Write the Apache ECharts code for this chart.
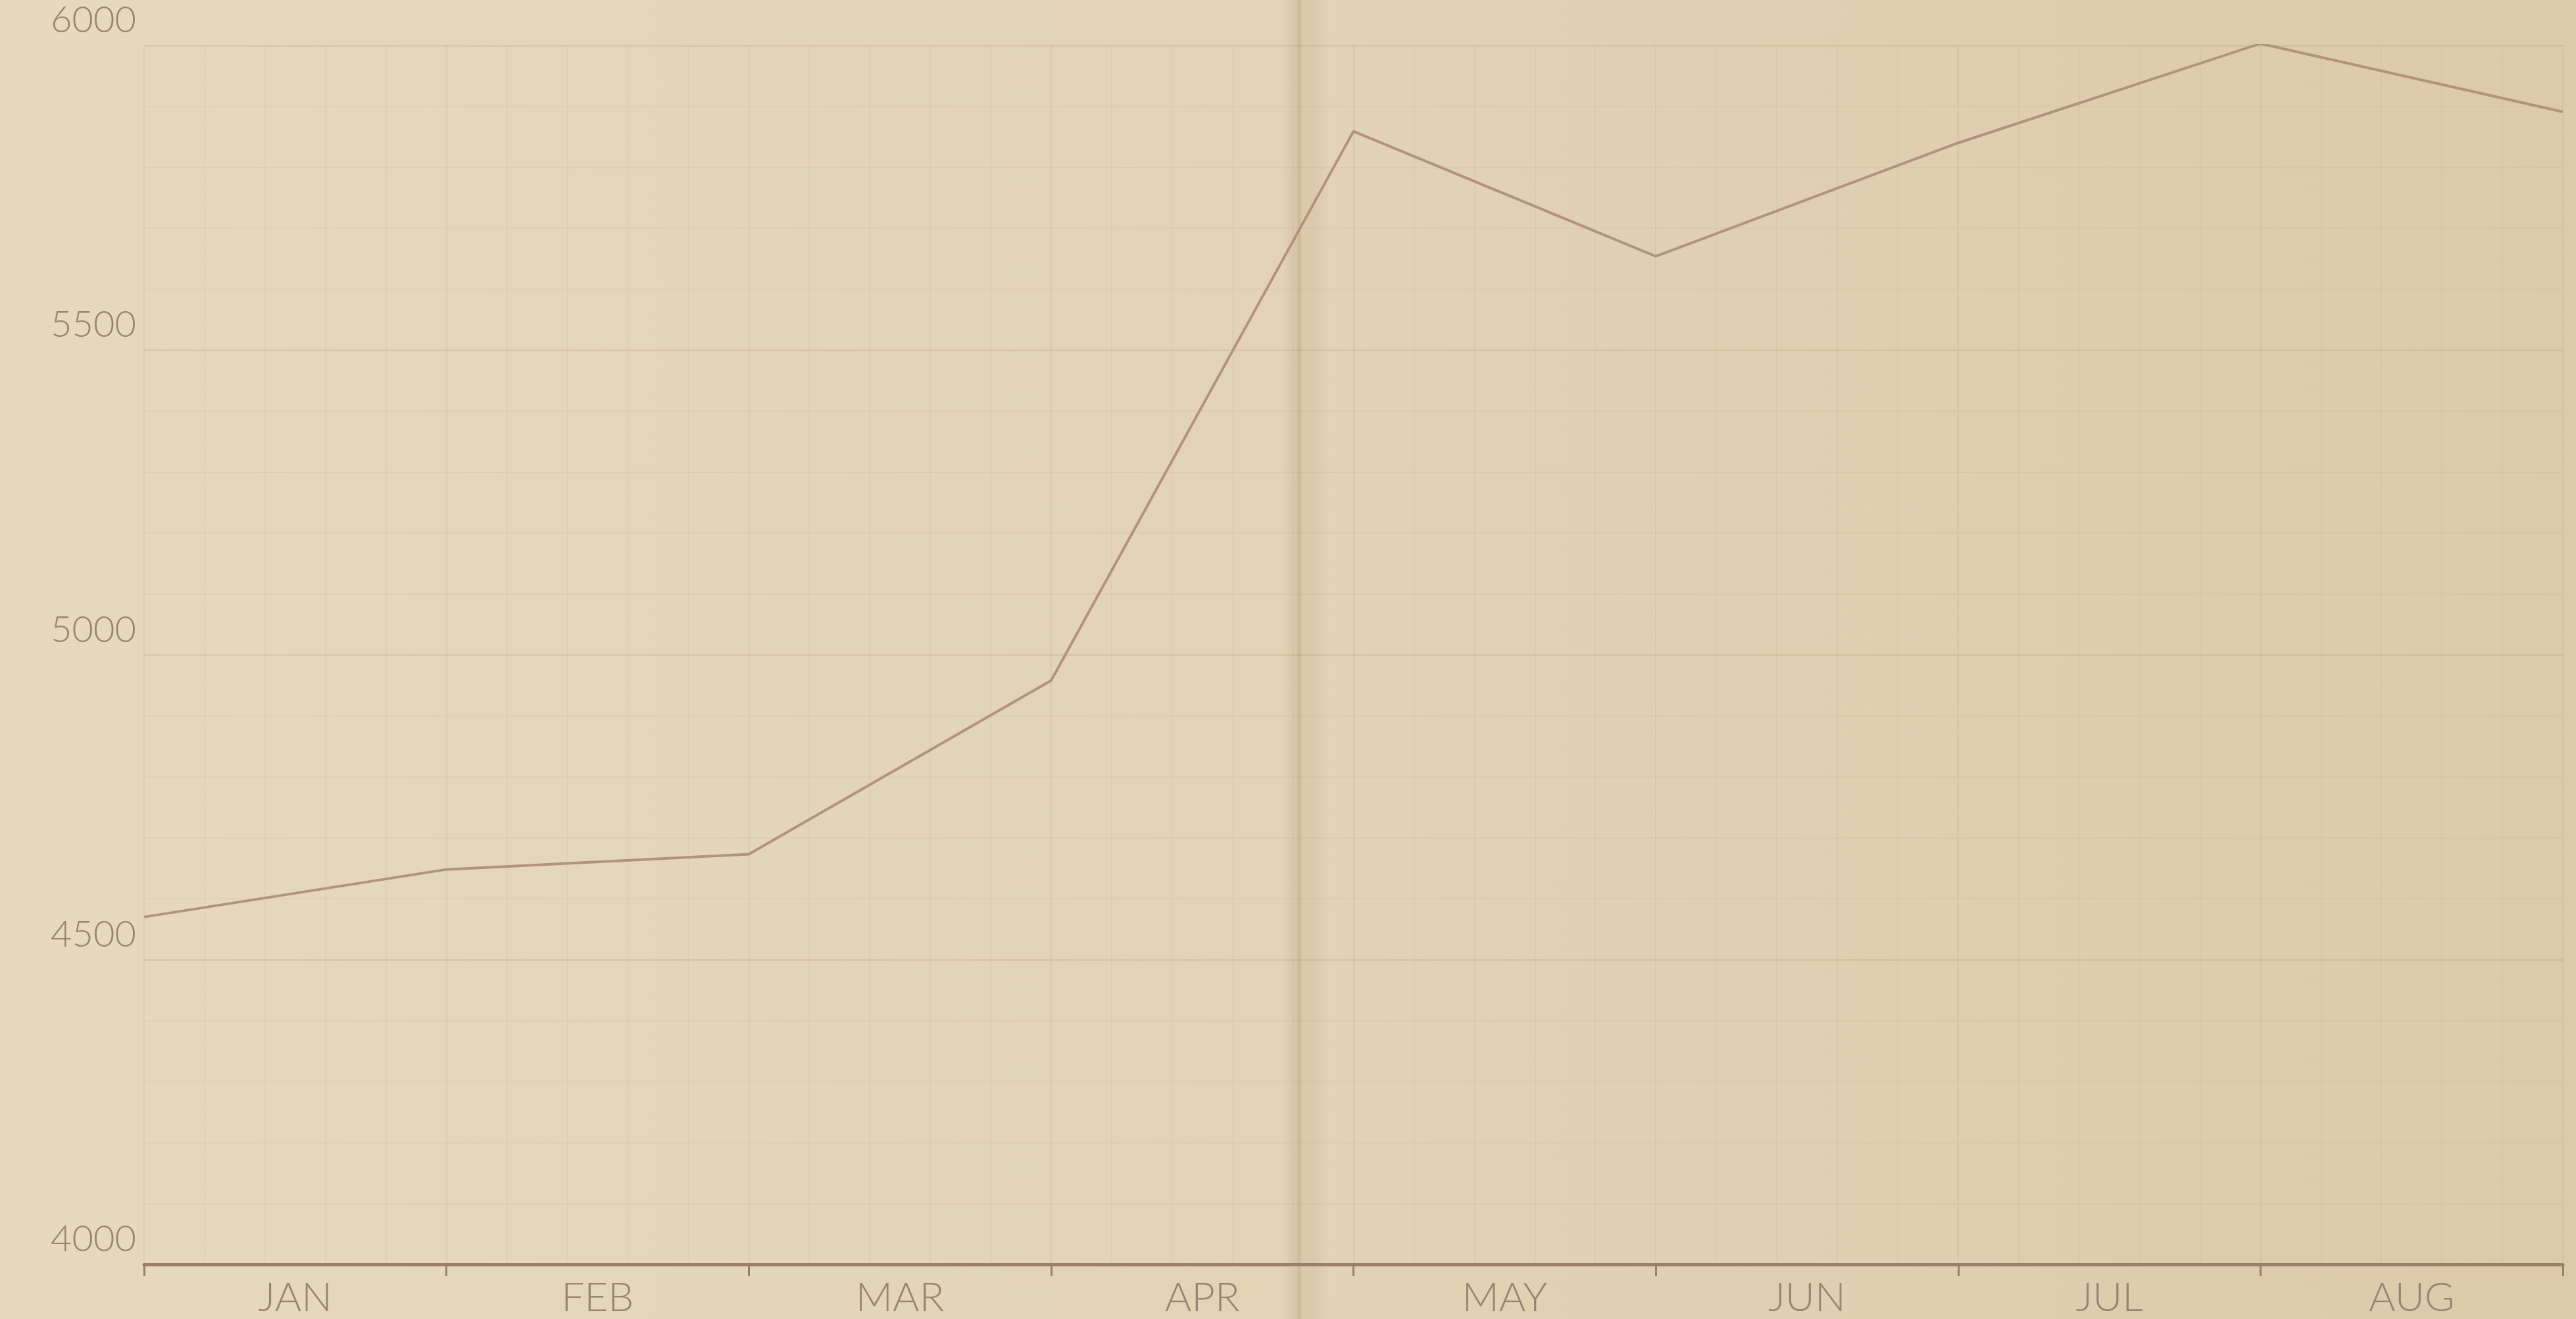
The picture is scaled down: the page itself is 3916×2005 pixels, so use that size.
<!DOCTYPE html>
<html>
<head>
<meta charset="utf-8">
<script src="https://cdn.jsdelivr.net/npm/echarts@6/dist/echarts.min.js"></script>
<style>
  html, body { margin: 0; padding: 0; }
  #main { width: 3916px; height: 2005px; }
</style>
</head>
<body>
<div id="main"></div>
<script>
// months are labelled between the ticks, values are plotted on the ticks
var months = ['JAN', 'FEB', 'MAR', 'APR', 'MAY', 'JUN', 'JUL', 'AUG'];
var tickIndex = [0, 1, 2, 3, 4, 5, 6, 7, 8];
var values = [4570, 4648, 4673, 4958, 5859, 5654, 5840, 6003, 5891];
var yTicks = [4000, 4500, 5000, 5500, 6000];

var inkColor = '#9c7f69';
var labelColor = '#9a8373';
var lineColor = '#b3937b';

var chart = echarts.init(document.getElementById('main'));

var option = {
  backgroundColor: {
    type: 'linear', x: 0, y: 0, x2: 1, y2: 0,
    colorStops: [
      { offset: 0, color: '#e6d9bd' },
      { offset: 0.5, color: '#e2d3b5' },
      { offset: 1, color: '#dccaa9' }
    ]
  },
  animation: false,
  grid: { left: 219, right: 20, top: 69, bottom: 83 },
  graphic: [
    {
      // fold of the paper
      type: 'rect',
      shape: { x: 1950, y: 0, width: 70, height: 2005 },
      style: {
        fill: {
          type: 'linear', x: 0, y: 0, x2: 1, y2: 0,
          colorStops: [
            { offset: 0, color: 'rgba(150,120,80,0)' },
            { offset: 0.3, color: 'rgba(150,120,80,0.16)' },
            { offset: 0.36, color: 'rgba(150,120,80,0.3)' },
            { offset: 0.42, color: 'rgba(150,120,80,0.1)' },
            { offset: 0.7, color: 'rgba(150,120,80,0.1)' },
            { offset: 1, color: 'rgba(150,120,80,0)' }
          ]
        }
      },
      z: 1
    }
  ],
  xAxis: [
    {
      type: 'category',
      data: months,
      boundaryGap: true,
      position: 'bottom',
      z: 5,
      axisLine: { show: true, lineStyle: { color: inkColor, width: 5 } },
      axisTick: { show: true, length: 18, lineStyle: { color: inkColor, width: 3 } },
      axisLabel: {
        color: labelColor,
        fontFamily: 'Lato',
        fontWeight: 300,
        fontSize: 62,
        margin: 20
      },
      splitLine: { show: false }
    },
    {
      type: 'value',
      min: 0,
      max: 8,
      interval: 1,
      position: 'bottom',
      axisLine: { show: false },
      axisTick: { show: false },
      axisLabel: { show: false },
      splitLine: { show: true, lineStyle: { color: 'rgba(165,135,100,0.13)', width: 2 } },
      minorTick: { show: false, splitNumber: 5 },
      minorSplitLine: { show: true, lineStyle: { color: 'rgba(165,135,100,0.08)', width: 2 } }
    }
  ],
  yAxis: {
    type: 'value',
    min: yTicks[0],
    max: yTicks[yTicks.length - 1],
    interval: 500,
    axisLine: { show: false },
    axisTick: { show: false },
    axisLabel: {
      color: labelColor,
      fontFamily: 'Lato',
      fontWeight: 300,
      fontSize: 56,
      margin: 12,
      verticalAlign: 'bottom',
      padding: [0, 0, 10, 0],
      formatter: function (v) { return String(v); }
    },
    splitLine: { show: true, lineStyle: { color: 'rgba(160,128,95,0.16)', width: 3 } },
    minorTick: { show: false, splitNumber: 5 },
    minorSplitLine: { show: true, lineStyle: { color: 'rgba(165,135,100,0.08)', width: 2 } }
  },
  series: [
    {
      type: 'line',
      xAxisIndex: 1,
      data: tickIndex.map(function (t, i) { return [t, values[i]]; }),
      symbol: 'none',
      z: 4,
      lineStyle: { color: lineColor, width: 4 }
    }
  ]
};

chart.setOption(option);
</script>
</body>
</html>
